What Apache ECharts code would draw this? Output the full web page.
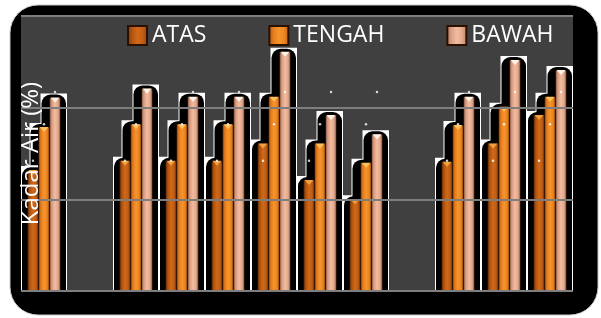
<!DOCTYPE html>
<html>
<head>
<meta charset="utf-8">
<script src="https://cdn.jsdelivr.net/npm/echarts@6/dist/echarts.min.js"></script>
<style>
  html, body { margin: 0; padding: 0; background: #fff; }
  #chart { width: 601px; height: 318px; }
</style>
</head>
<body>
<div id="chart"></div>
<script>
// kategori sampel (label tidak tampak di gambar), dua slot kosong
const categories = ['1', '2', '3', '4', '5', '6', '7', '8', '9', '10', '11', '12'];
const atas   = [13.2, null, 14.2, 14.2, 14.2, 16.1, 12.1, 10.0, null, 14.1, 16.1, 19.2];
const tengah = [17.9, null, 18.2, 18.2, 18.2, 21.2, 16.1, 14.0, null, 18.1, 20.1, 21.2];
const bawah  = [21.1, null, 22.1, 21.2, 21.2, 26.1, 19.2, 17.1, null, 21.2, 25.2, 24.1];
// titik putih kecil per seri
const titik = { ATAS: 14.2, TENGAH: 18.2, BAWAH: 21.7 };
const yTicks = [0, 10, 20, 30];

const BAR_W = 11;

function grad(stops) {
  return {
    type: 'linear', x: 0, y: 0, x2: 1, y2: 0,
    colorStops: stops.map((c, i) => ({ offset: i / (stops.length - 1), color: c }))
  };
}
const colors = {
  ATAS: grad(['#7a3606', '#b4560f', '#d0691a', '#c25e14', '#8e420a']),
  TENGAH: grad(['#a85510', '#e67e1e', '#f7942c', '#ec8622', '#b8620f']),
  BAWAH: grad(['#a8735c', '#dca084', '#f3bca0', '#e3a98c', '#b07a62'])
};
const topColors = { ATAS: '#f0a040', TENGAH: '#ffc060', BAWAH: '#fff2e6' };

// bayangan hitam bergaris putih di belakang tiap kelompok batang
function renderShadow(params, api) {
  const idx = api.value(0);
  const base = api.coord([idx, 0]);
  const band = api.size([1, 0])[0];
  const left = base[0] - band / 2, right = base[0] + band / 2;
  const start = base[0] - BAR_W * 1.5;
  const whites = [], blacks = [];
  for (let i = 0; i < 3; i++) {
    const top = api.coord([idx, api.value(i + 1)])[1];
    const x0 = Math.max(start + i * BAR_W - 9, left);
    whites.push({
      type: 'rect',
      shape: { x: x0, y: top - 4, width: right - x0, height: base[1] - top + 4 },
      style: { fill: '#fff' }
    });
    blacks.push({
      type: 'rect',
      shape: { x: x0 + 1, y: top - 3, width: right - x0 - 2, height: base[1] - top + 3, r: [9, 9, 0, 0] },
      style: { fill: '#000' }
    });
  }
  return { type: 'group', children: whites.concat(blacks) };
}

const shadowData = categories
  .map((c, i) => [i, atas[i], tengah[i], bawah[i]])
  .filter(d => d[1] != null);

const seriesDefs = [['ATAS', atas], ['TENGAH', tengah], ['BAWAH', bawah]];

const chart = echarts.init(document.getElementById('chart'));
chart.setOption({
  animation: false,
  backgroundColor: '#fff',
  textStyle: { fontFamily: 'Open Sans' },
  graphic: [{
    type: 'rect',
    z: -10,
    shape: { x: 10, y: 5, width: 588, height: 310, r: 28 },
    style: { fill: '#000', stroke: '#c8c8c8', lineWidth: 1 }
  }],
  legend: {
    data: ['ATAS', 'TENGAH', 'BAWAH'],
    left: 122,
    top: 19,
    icon: 'rect',
    itemWidth: 19,
    itemHeight: 19,
    itemGap: 62,
    textStyle: { color: '#fff', fontSize: 23, fontFamily: 'Open Sans' }
  },
  grid: {
    show: true,
    left: 21,
    right: 28,
    top: 16,
    bottom: 27,
    backgroundColor: '#404040',
    borderColor: 'transparent'
  },
  xAxis: {
    type: 'category',
    data: categories,
    axisLine: { show: false },
    axisTick: { show: false },
    axisLabel: { show: false }
  },
  yAxis: {
    type: 'value',
    min: yTicks[0],
    max: yTicks[yTicks.length - 1],
    interval: 10,
    z: 10,
    name: 'Kadar Air (%)',
    nameLocation: 'middle',
    nameGap: -22,
    nameTextStyle: { color: '#fff', fontSize: 24, fontFamily: 'Open Sans' },
    axisLine: { show: false },
    axisTick: { show: false },
    axisLabel: { show: false },
    splitLine: { lineStyle: { color: '#7e7e7e', width: 2 } }
  },
  series: [
    {
      type: 'custom',
      name: 'bayangan',
      z: 1,
      silent: true,
      renderItem: renderShadow,
      encode: { x: 0, y: [1, 2, 3] },
      data: shadowData
    }
  ].concat(seriesDefs.map(([name, vals]) => ({
    type: 'bar',
    name: name,
    z: 2,
    barWidth: BAR_W,
    barGap: '0%',
    data: vals,
    itemStyle: { color: colors[name], borderColor: '#2a1000', borderWidth: 0.6 }
  }))).concat(seriesDefs.map(([name, vals]) => ({
    type: 'pictorialBar',
    name: name + '-puncak',
    z: 3,
    silent: true,
    barWidth: BAR_W,
    barGap: '0%',
    symbol: 'path://M0,0L10,0L5,5Z',
    symbolSize: [BAR_W - 2, 5],
    symbolPosition: 'end',
    data: vals,
    itemStyle: { color: topColors[name] }
  }))).concat(seriesDefs.map(([name, vals], i) => ({
    type: 'scatter',
    name: name + '-titik',
    z: 4,
    silent: true,
    symbolSize: 2.5,
    symbolOffset: [(i - 1) * BAR_W, 0],
    data: vals.map(v => (v == null ? null : titik[name])),
    itemStyle: { color: '#fff' }
  })))
});
</script>
</body>
</html>
